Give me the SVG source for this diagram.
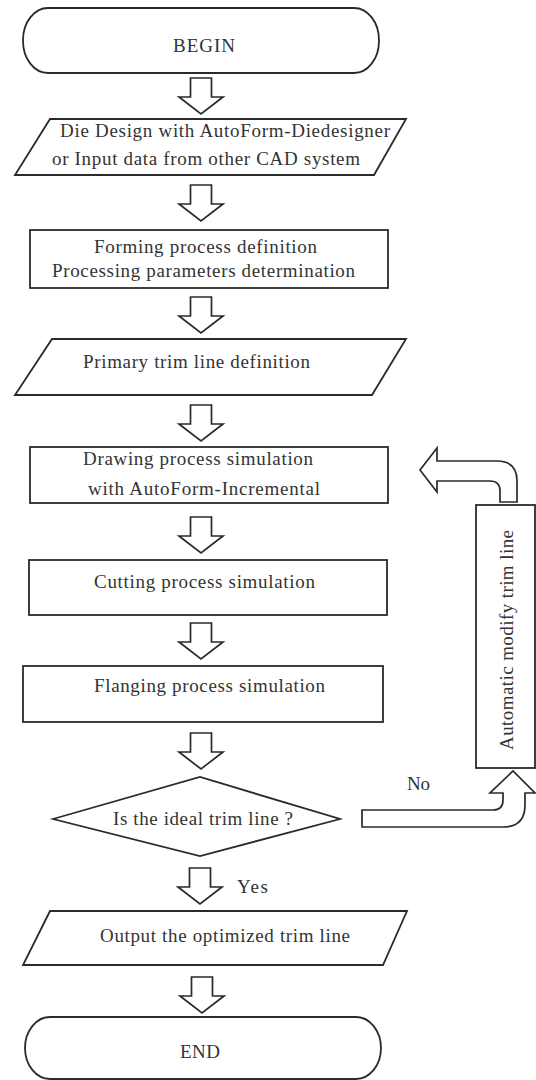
<svg xmlns="http://www.w3.org/2000/svg" xmlns:xlink="http://www.w3.org/1999/xlink" width="536" height="1080" viewBox="0 0 536 1080">
<style>
.shape{fill:#fff;stroke:#2a2a2a;stroke-width:1.8;stroke-linejoin:miter}
.arrow{fill:#fff;stroke:#2a2a2a;stroke-width:1.7;stroke-linejoin:miter}
text{font-family:"Liberation Serif","Times New Roman",serif;font-size:19px;fill:#333}
</style>
<defs>
<path id="down" class="arrow" d="M-10.5,0 H10.5 V19 H22 L0,36 L-22,19 H-10.5 Z"/>
</defs>
<rect width="536" height="1080" fill="#fff"/>
<g id="connectors">
<use xlink:href="#down" href="#down" x="201" y="78"/>
<use xlink:href="#down" href="#down" x="201" y="185"/>
<use xlink:href="#down" href="#down" x="201" y="297"/>
<use xlink:href="#down" href="#down" x="201" y="405"/>
<use xlink:href="#down" href="#down" x="201" y="517"/>
<use xlink:href="#down" href="#down" x="201" y="623"/>
<use xlink:href="#down" href="#down" x="201" y="733"/>
<use xlink:href="#down" href="#down" x="200" y="868"/>
<use xlink:href="#down" href="#down" x="202" y="977"/>
<path class="arrow" d="M420,470 L437,448 L437,461 L497,461 Q517,461 517,481 L517,502 L500,502 L500,491 Q500,481 490,481 L437,481 L437,492 Z"/>
<path class="arrow" d="M362,810 L493,810 Q503,810 503,800 L503,793 L490,793 L513,771 L535,793 L525,793 L525,805 Q525,827 503,827 L362,827 Z"/>
<text x="407" y="790" textLength="23">No</text>
<text x="237" y="893" textLength="31">Yes</text>
</g>
<g id="begin">
<rect class="shape" x="23" y="8" width="356" height="65" rx="25" ry="32"/>
<text x="173" y="52" textLength="62">BEGIN</text>
</g>
<g id="die-design">
<polygon class="shape" points="50,119 406,119 374,175 15,175"/>
<text x="60" y="137" textLength="330">Die Design with AutoForm-Diedesigner</text>
<text x="52" y="165" textLength="308">or Input data from other CAD system</text>
</g>
<g id="forming">
<rect class="shape" x="30" y="230" width="358" height="58"/>
<text x="94" y="253" textLength="223">Forming process definition</text>
<text x="52" y="277" textLength="303">Processing parameters determination</text>
</g>
<g id="primary">
<polygon class="shape" points="52,339 406,339 372,395 15,395"/>
<text x="83" y="368" textLength="227">Primary trim line definition</text>
</g>
<g id="drawing">
<rect class="shape" x="30" y="447" width="358" height="56"/>
<text x="83" y="465" textLength="230">Drawing process simulation</text>
<text x="88" y="495" textLength="232">with AutoForm-Incremental</text>
</g>
<g id="cutting">
<rect class="shape" x="29" y="560" width="358" height="55"/>
<text x="94" y="588" textLength="221">Cutting process simulation</text>
</g>
<g id="flanging">
<rect class="shape" x="23" y="666" width="360" height="56"/>
<text x="94" y="692" textLength="231">Flanging process simulation</text>
</g>
<g id="decision">
<polygon class="shape" points="53,819 200,777 340,819 200,856"/>
<text x="113" y="825" textLength="180">Is the ideal trim line ?</text>
</g>
<g id="modify">
<rect class="shape" x="476" y="505" width="59" height="263"/>
<text transform="translate(513,640) rotate(-90)" x="-110" y="0" textLength="220">Automatic modify trim line</text>
</g>
<g id="output">
<polygon class="shape" points="50,911 407,911 383,965 23,965"/>
<text x="100" y="942" textLength="250">Output the optimized trim line</text>
</g>
<g id="end">
<rect class="shape" x="25" y="1017" width="356" height="62" rx="25" ry="31"/>
<text x="180" y="1058" textLength="40">END</text>
</g>
</svg>
